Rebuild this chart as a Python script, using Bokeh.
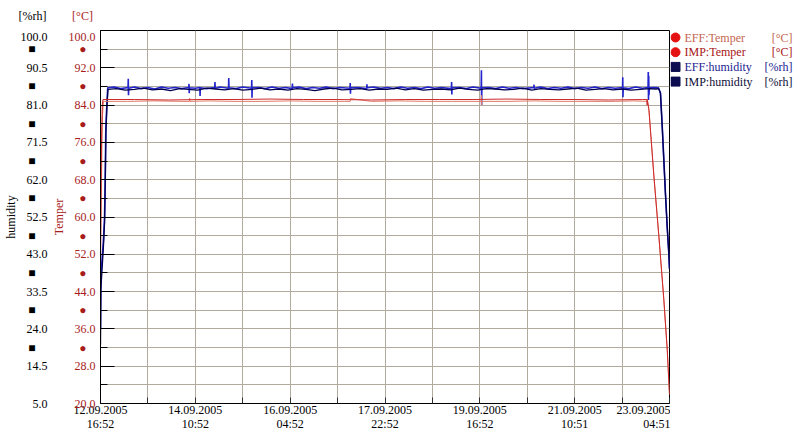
from bokeh.plotting import figure
from bokeh.models import Range1d, LinearAxis, FixedTicker
from bokeh.layouts import row, column
from bokeh.embed import file_html
from bokeh.resources import INLINE

# ---------------- data (hours since 12.09.2005 16:52) ----------------
x_tick_hours = [0, 21, 42, 63, 84, 105, 126, 147, 168, 189, 210, 231, 252]
x_date_labels = ["12.09.2005", "", "14.09.2005", "", "16.09.2005", "", "17.09.2005", "",
                 "19.09.2005", "", "21.09.2005", "", "23.09.2005"]
x_time_labels = ["16:52", "", "10:52", "", "04:52", "", "22:52", "", "16:52", "", "10:51", "",
                 "04:51"]

temp_ticks = [20, 24, 28, 32, 36, 40, 44, 48, 52, 56, 60, 64, 68, 72, 76, 80, 84, 88, 92, 96, 100]
temp_tick_labels = ["20.0", "", "28.0", "●", "36.0", "●", "44.0", "●", "52.0", "●", "60.0",
                    "●", "68.0", "●", "76.0", "●", "84.0", "●", "92.0", "●", "100.0"]
hum_ticks = [5, 9.75, 14.5, 19.25, 24, 28.75, 33.5, 38.25, 43, 47.75, 52.5, 57.25, 62,
             66.75, 71.5, 76.25, 81, 85.75, 90.5, 95.25, 100]
hum_tick_labels = ["5.0", "", "14.5", "■", "24.0", "■", "33.5", "■", "43.0", "■", "52.5",
                   "■", "62.0", "■", "71.5", "■", "81.0", "■", "90.5", "■", "100.0"]

eff_temp_t = [0.0, 0.3, 0.6, 0.9, 1.3, 12, 24, 36, 39.4, 39.5, 39.6, 48, 60, 72, 84, 96, 108,
              110.6, 110.7, 120, 132, 144, 156, 168.6, 168.7, 168.8, 168.9, 180, 192, 204, 216,
              228, 236, 242.2, 242.9, 245.1, 247.3, 249.5, 251.0, 252.0]
eff_temp = [50.0, 61.0, 74.0, 82.0, 84.8, 84.8, 84.9, 84.8, 84.8, 85.5, 84.8, 84.9, 84.8, 84.8,
            84.9, 84.8, 84.8, 84.8, 85.4, 84.8, 84.9, 84.8, 84.8, 84.8, 86.1, 84.0, 84.8, 84.8,
            84.9, 84.8, 84.8, 84.8, 84.9, 84.8, 82.9, 68.6, 55.7, 42.1, 31.4, 22.0]

imp_temp_t = [0.0, 0.2, 0.5, 0.8, 1.1, 15, 30, 45, 60, 75, 90, 105, 120, 135, 150, 165, 180,
              195, 210, 225, 240, 242.0, 242.1, 242.2, 242.9, 245.1, 247.3, 249.5, 251.0, 252.0]
imp_temp = [52.0, 65.0, 78.0, 84.0, 85.2, 85.2, 85.1, 85.2, 85.2, 85.3, 85.2, 85.2, 85.1, 85.2,
            85.2, 85.2, 85.3, 85.2, 85.2, 85.1, 85.2, 85.2, 84.0, 85.2, 83.0, 68.8, 55.9, 42.3,
            31.6, 21.8]

eff_hum_t = [0.0, 0.2, 1.3, 1.8, 2.1, 2.35, 2.8, 3.2,
             6, 9, 12.2, 12.3, 12.4, 12.5, 15, 18, 21, 24, 27, 30, 33, 36,
             39.1, 39.2, 39.3, 39.4, 42, 44.0, 44.1, 44.2, 47, 50.6, 50.7, 50.8,
             53, 56.7, 56.8, 56.9, 60, 63, 66.9, 67.0, 67.1, 67.2,
             70, 73, 76, 79, 82, 84.9, 85.0, 85.1, 88, 91, 94, 97, 100, 103, 106,
             110.5, 110.6, 110.7, 110.8, 114, 117.9, 118.0, 118.1,
             121, 124, 127, 130, 133, 136, 139, 142, 145, 148, 151,
             155.4, 155.5, 155.6, 155.7, 159, 162, 165,
             168.6, 168.7, 168.8, 168.9, 172, 175, 178, 181, 184, 187,
             191.9, 192.0, 192.1, 195, 198, 201, 204, 207, 210, 213, 216, 219, 222, 225, 228,
             231.2, 231.3, 231.4, 231.5, 234, 237, 240,
             242.5, 242.6, 242.7, 242.8, 242.9, 243.1,
             245, 247.1, 248.0, 248.8, 250.2, 251.0, 251.7, 252.0]
eff_hum = [24.0, 38.0, 46.5, 52.5, 62.5, 75.0, 81.0, 85.4,
           85.6, 85.2, 85.5, 87.7, 83.5, 85.3, 85.6, 85.2, 85.5, 85.1, 85.6, 85.3, 85.5, 85.2,
           85.5, 86.4, 84.0, 85.4, 85.3, 85.5, 83.3, 85.4, 85.2, 85.5, 86.9, 85.3,
           85.6, 85.3, 87.9, 85.4, 85.2, 85.6, 85.3, 87.4, 82.9, 85.4,
           85.5, 85.2, 85.6, 85.3, 85.5, 85.2, 86.5, 85.4, 85.6, 85.2, 85.5, 85.3, 85.6, 85.2, 85.5,
           85.3, 86.6, 83.9, 85.4, 85.5, 85.2, 86.3, 85.4,
           85.6, 85.3, 85.5, 85.2, 85.6, 85.3, 85.5, 85.2, 85.6, 85.3, 85.5,
           85.2, 86.9, 83.7, 85.4, 85.5, 85.2, 85.6,
           85.3, 89.9, 81.0, 85.4, 85.5, 85.2, 85.6, 85.3, 85.5, 85.2,
           85.5, 86.2, 85.3, 85.6, 85.2, 85.5, 85.3, 85.6, 85.2, 85.5, 85.3, 85.6, 85.2, 85.5, 85.3,
           85.5, 88.1, 83.0, 85.4, 85.2, 85.6, 85.3,
           85.5, 89.4, 82.3, 88.5, 83.5, 85.4,
           85.5, 85.4, 84.1, 75.4, 58.6, 49.9, 43.3, 39.4]

imp_hum_t = [0.0, 0.15, 1.3, 1.8, 2.1, 2.4, 2.8, 3.3,
             7, 11, 15, 19, 23, 27, 31, 35, 39, 43, 47, 51, 55, 59, 63, 67, 71, 75, 79, 83,
             87, 91, 95, 99, 103, 107, 111, 115, 119, 123, 127, 131, 135, 139, 143, 147, 151,
             155, 159, 163, 167, 171, 175, 179, 183, 187, 191, 195, 199, 203, 207, 211, 215,
             219, 223, 227, 231, 235, 239, 243, 246,
             247.2, 248.0, 248.8, 250.2, 251.0, 251.7, 252.0]
imp_hum = [20.0, 34.0, 45.0, 51.0, 61.0, 74.0, 80.0, 85.0,
           85.2, 84.8, 85.0, 85.3, 84.9, 85.1, 84.7, 85.2, 85.0, 84.8, 85.3, 85.1, 84.9, 85.2,
           84.8, 85.0, 85.3, 84.9, 85.1, 84.8, 85.2, 85.0, 84.7, 85.1, 85.3, 84.9, 85.0, 85.2,
           84.8, 85.1, 85.0, 85.3, 84.9, 85.2, 84.8, 85.0, 85.1, 84.9, 85.3, 85.0, 84.8, 85.2,
           85.1, 84.9, 85.0, 85.3, 84.8, 85.2, 85.0, 84.9, 85.1, 85.3, 84.8, 85.0, 85.2, 84.9,
           85.1, 84.8, 85.0, 85.2, 85.1,
           85.2, 84.0, 75.2, 58.4, 49.7, 43.1, 39.2]

legend_names = ["EFF:Temper", "IMP:Temper", "EFF:humidity", "IMP:humidity"]
legend_units = ["[°C]", "[°C]", "[%rh]", "[%rh]"]
axis_units = ["[%rh]", "[°C]"]

# ---------------- styles ----------------
FONT = "Liberation Serif"
FS = "12px"
NB3 = "\u00a0" * 3
NB4 = "\u00a0" * 4
RED_AX = "#a81c1c"
DOT_RED = "#e41212"
SQ_NAVY = "#0c0c50"
GRID = "#b0ab9c"
EFF_T_COL = "#e07a66"
IMP_T_COL = "#cc2a2a"
EFF_H_COL = "#2424cc"
IMP_H_COL = "#00004e"
TEXT_COLS = ["#c4664f", "#a81414", "#1c1c90", "#0c0c38"]
MARK_COLS = [DOT_RED, DOT_RED, SQ_NAVY, SQ_NAVY]
MARKERS = ["circle", "circle", "square", "square"]
MARK_SIZES = [9, 9, 9, 9]

W_MAIN, H_HEAD, H_MAIN, W_LEG = 670, 29, 408, 125


def no_frame_align(f):
    if "frame_align" in f.properties():
        f.frame_align = False


def bare_figure(w, h, xr, yr):
    f = figure(width=w, height=h, x_range=xr, y_range=yr, output_backend="svg",
               toolbar_location=None, x_axis_location=None, y_axis_location=None,
               min_border=0, min_border_left=0, min_border_right=0, min_border_top=0,
               min_border_bottom=0)
    f.outline_line_color = None
    f.grid.visible = False
    f.background_fill_color = "white"
    f.border_fill_color = "white"
    no_frame_align(f)
    return f


# ---------------- main plot ----------------
p = figure(width=W_MAIN, height=H_MAIN, x_range=Range1d(0, 252), y_range=Range1d(20, 100),
           output_backend="svg", toolbar_location=None,
           min_border_left=97, min_border_right=1, min_border_top=1, min_border_bottom=34)
p.extra_y_ranges = {"hum": Range1d(5, 100)}
p.outline_line_color = "black"
p.background_fill_color = "white"
p.border_fill_color = "white"
no_frame_align(p)


def style_labels(ax, color):
    ax.major_label_text_font = FONT
    ax.major_label_text_font_size = FS
    ax.major_label_text_color = color


# x axis: dates row
xa = p.xaxis[0]
xa.ticker = FixedTicker(ticks=x_tick_hours)
xa.major_label_overrides = {h: lab for h, lab in zip(x_tick_hours, x_date_labels)}
style_labels(xa, "black")
xa.major_label_standoff = 2
xa.major_tick_in = 6
xa.major_tick_out = 0
xa.major_tick_line_color = "#303030"
xa.minor_tick_line_color = None
xa.axis_line_color = "black"

# x axis: times row
xb = LinearAxis(ticker=FixedTicker(ticks=x_tick_hours))
xb.major_label_overrides = {h: lab for h, lab in zip(x_tick_hours, x_time_labels)}
style_labels(xb, "black")
xb.major_label_standoff = -6
xb.major_tick_line_color = None
xb.minor_tick_line_color = None
xb.axis_line_color = None
p.add_layout(xb, "below")

# temperature axis (inner left)
ta = p.yaxis[0]
ta.ticker = FixedTicker(ticks=temp_ticks, minor_ticks=[28, 36, 44, 52, 60, 68, 76, 84, 92])
ta.major_label_overrides = {t: (lab + NB3 if lab == "●" else lab)
                            for t, lab in zip(temp_ticks, temp_tick_labels)}
style_labels(ta, RED_AX)
ta.major_label_standoff = 5
ta.major_tick_in = 7
ta.major_tick_out = 0
ta.minor_tick_in = 14
ta.minor_tick_out = 0
ta.major_tick_line_color = "black"
ta.minor_tick_line_color = "black"
ta.axis_line_color = "black"
ta.axis_label = "Temper"
ta.axis_label_text_font = FONT
ta.axis_label_text_font_size = FS
ta.axis_label_text_font_style = "normal"
ta.axis_label_text_color = RED_AX
ta.axis_label_standoff = 0

# humidity axis (outer left)
ha = LinearAxis(y_range_name="hum", ticker=FixedTicker(ticks=hum_ticks))
ha.major_label_overrides = {t: (lab + NB4 if lab == "■" else lab)
                            for t, lab in zip(hum_ticks, hum_tick_labels)}
style_labels(ha, "black")
ha.major_label_standoff = -5
ha.major_tick_line_color = None
ha.minor_tick_line_color = None
ha.axis_line_color = None
ha.axis_label = "humidity"
ha.axis_label_text_font = FONT
ha.axis_label_text_font_size = FS
ha.axis_label_text_font_style = "normal"
ha.axis_label_text_color = "black"
ha.axis_label_standoff = 0
p.add_layout(ha, "left")

p.xgrid.grid_line_color = GRID
p.ygrid.grid_line_color = GRID

# data lines
p.line(eff_hum_t, eff_hum, y_range_name="hum", line_color=EFF_H_COL, line_width=1.6)
p.line(imp_hum_t, imp_hum, y_range_name="hum", line_color=IMP_H_COL, line_width=1.3)
p.line(eff_temp_t, eff_temp, line_color=EFF_T_COL, line_width=1)
p.line(imp_temp_t, imp_temp, line_color=IMP_T_COL, line_width=1)

# ---------------- unit headers above the left axes (pixel coordinates) ----------------
head = bare_figure(W_MAIN, H_HEAD, Range1d(0, W_MAIN), Range1d(H_HEAD, 0))
head.text(x=[32, 82], y=[15, 15], text=axis_units, text_align="center",
          text_baseline="middle", text_font={"value": FONT}, text_font_size={"value": FS},
          text_color=["black", RED_AX])

# ---------------- legend panel (pixel coordinates) ----------------
leg = bare_figure(W_LEG, H_HEAD + H_MAIN, Range1d(W_MAIN, W_MAIN + W_LEG),
                  Range1d(H_HEAD + H_MAIN, 0))
row_y = [37 + 14.7 * i for i in range(len(legend_names))]
leg.scatter(x=[675] * 4, y=row_y, marker=MARKERS, size=MARK_SIZES,
            fill_color=MARK_COLS, line_color=MARK_COLS)
leg.text(x=[684] * 4, y=row_y, text=legend_names, text_align="left", text_baseline="middle",
         text_font={"value": FONT}, text_font_size={"value": FS}, text_color=TEXT_COLS)
leg.text(x=[792] * 4, y=row_y, text=legend_units, text_align="right", text_baseline="middle",
         text_font={"value": FONT}, text_font_size={"value": FS}, text_color=TEXT_COLS)

layout = row(column(head, p, spacing=0), leg, spacing=0)
open("out.html", "w").write(file_html(layout, INLINE))
